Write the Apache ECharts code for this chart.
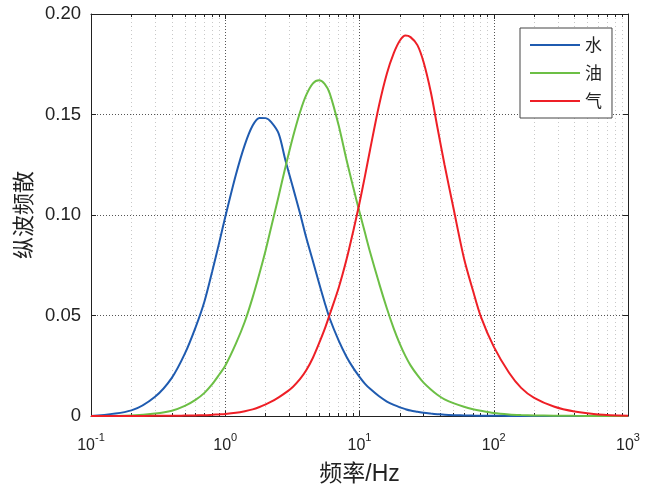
<!DOCTYPE html>
<html>
<head>
<meta charset="utf-8">
<script src="https://cdn.jsdelivr.net/npm/echarts@6/dist/echarts.min.js"></script>
<style>html,body{margin:0;padding:0;background:#fff}#c{width:661px;height:491px}</style>
</head>
<body>
<div id="c"></div>
<script>
var freqs = [0.1,0.2,0.3,0.4,0.5,0.6,0.7,0.8,0.9,1.0,1.2,1.4,1.6,1.8,2.0,2.2,2.5,2.8,3.2,3.6,4.0,4.5,5.0,5.5,6.0,7,8,9,10,11,12,14,16,18,20,22,24,27,30,34,38,43,50,60,70,80,100,130,160,200,280,400,600,1000];
var water = [0,0.0028,0.0096,0.019,0.031,0.044,0.057,0.072,0.086,0.099,
  0.120,0.135,0.1445,0.1483,0.1482,0.1462,0.1405,0.1275,0.1135,0.101,
  0.089,0.077,0.066,0.0565,0.0485,0.0375,0.0295,0.0238,0.0195,0.016,
  0.0135,0.0098,0.0072,0.0055,0.0043,0.0034,0.0027,0.0021,0.0016,0.0012,
  0.0009,0.0006,0.0004,0.0003,0.0002,0.00015,0.0001,0.00005,0.00003,0.00002,
  0,0,0,0];
var oil = [0,0.0003,0.0012,0.0026,0.005,0.008,0.0115,0.0158,0.0205,0.025,
  0.036,0.047,0.059,0.071,0.0825,0.094,0.1095,0.1235,0.139,0.151,
  0.1595,0.1655,0.167,0.1652,0.1605,0.1445,0.1275,0.1135,0.1015,0.091,
  0.0815,0.066,0.0535,0.0435,0.0358,0.0298,0.0252,0.0203,0.0166,0.0132,
  0.0106,0.0083,0.0064,0.0046,0.0034,0.0026,0.0015,0.0008,0.0005,0.0003,
  0.00015,0.00008,0.00003,0];
var gas = [0,0,0.0001,0.0001,0.0002,0.0003,0.0004,0.0006,0.0008,0.001,
  0.0016,0.0024,0.0033,0.0045,0.0058,0.0071,0.0093,0.0115,0.0146,0.0183,
  0.0226,0.029,0.0362,0.0432,0.0505,0.0638,0.0778,0.0922,0.106,0.1196,
  0.1326,0.1547,0.1704,0.1805,0.1868,0.1893,0.1885,0.1845,0.1761,0.1611,
  0.1438,0.125,0.1037,0.0785,0.0624,0.0496,0.0345,0.0215,0.014,0.009,
  0.0047,0.0022,0.0008,0.0001];
var seriesNames = ['水','油','气'];
var xTitle = '频率/Hz';
var yTitle = '纵波频散';

function pairs(vals){ return freqs.map(function(f,i){ return [f, vals[i]]; }); }
var FONT = '"Liberation Sans", Arial, sans-serif';
var MIX = '"Liberation Sans", "Noto Sans CJK SC", sans-serif';
var CJK = '"Noto Sans CJK SC", sans-serif';
var colors = ['#1f5bb0','#6cbf45','#ee1f26'];

var chart = echarts.init(document.getElementById('c'));
function line(i, vals){
  return {name:seriesNames[i], type:'line', showSymbol:false, symbol:'none',
    smooth:0.3,
    data:pairs(vals), color:colors[i], lineStyle:{width:2}, z:3+i};
}
chart.setOption({
  animation:false,
  backgroundColor:'#fff',
  grid:{left:91, right:33, top:14, bottom:75},
  legend:{
    orient:'vertical', left:520, top:28,
    padding:[8.5,10,8.5,10], itemGap:11,
    icon:'rect', itemWidth:50, itemHeight:2,
    backgroundColor:'#fff', borderColor:'#444', borderWidth:1,
    textStyle:{fontFamily:CJK, fontSize:17, lineHeight:17, color:'#222'},
    data:seriesNames
  },
  xAxis:[{
    type:'log', logBase:10, min:0.1, max:1000,
    name:xTitle, nameLocation:'middle', nameGap:47,
    nameTextStyle:{fontFamily:MIX, fontSize:23, color:'#222'},
    axisLine:{show:true, onZero:false, lineStyle:{color:'#222', width:1}},
    axisTick:{show:true, inside:true, length:5, lineStyle:{color:'#222'}},
    minorTick:{show:true, splitNumber:9, length:3, lineStyle:{color:'#222'}},
    minorSplitLine:{show:true, lineStyle:{color:'#c8c8c8', type:[1,3], width:1}},
    splitLine:{show:true, lineStyle:{color:'#555', type:[1,2], width:1}},
    axisLabel:{
      margin:16,
      formatter:function(v){ var e=Math.round(Math.log10(v)); return '{b|10}{s|'+e+'}'; },
      rich:{
        b:{fontFamily:FONT, fontSize:16, color:'#222', verticalAlign:'bottom', lineHeight:22},
        s:{fontFamily:FONT, fontSize:11, color:'#222', verticalAlign:'top', lineHeight:22}
      }
    }
  },{
    type:'log', logBase:10, min:0.1, max:1000, position:'top',
    axisLine:{show:true, onZero:false, lineStyle:{color:'#222', width:1}},
    axisTick:{show:true, inside:true, length:5, lineStyle:{color:'#222'}},
    minorTick:{show:true, splitNumber:9, length:3, lineStyle:{color:'#222'}},
    axisLabel:{show:false}, splitLine:{show:false}
  }],
  yAxis:[{
    type:'value', min:0, max:0.2, interval:0.05,
    name:yTitle, nameLocation:'middle', nameGap:48, nameRotate:90,
    nameTextStyle:{fontFamily:CJK, fontSize:22, color:'#222'},
    axisLine:{show:true, lineStyle:{color:'#222', width:1}},
    axisTick:{show:true, inside:true, length:5, lineStyle:{color:'#222'}},
    splitLine:{show:true, lineStyle:{color:'#555', type:[1,2], width:1}},
    axisLabel:{
      margin:10, fontFamily:FONT, fontSize:18.5, color:'#222',
      formatter:function(v){ return v===0 ? '0' : v.toFixed(2); }
    }
  },{
    type:'value', min:0, max:0.2, interval:0.05, position:'right',
    axisLine:{show:true, lineStyle:{color:'#222', width:1}},
    axisTick:{show:true, inside:true, length:5, lineStyle:{color:'#222'}},
    axisLabel:{show:false}, splitLine:{show:false}
  }],
  series:[ line(0, water), line(1, oil), line(2, gas) ]
});
</script>
</body>
</html>
